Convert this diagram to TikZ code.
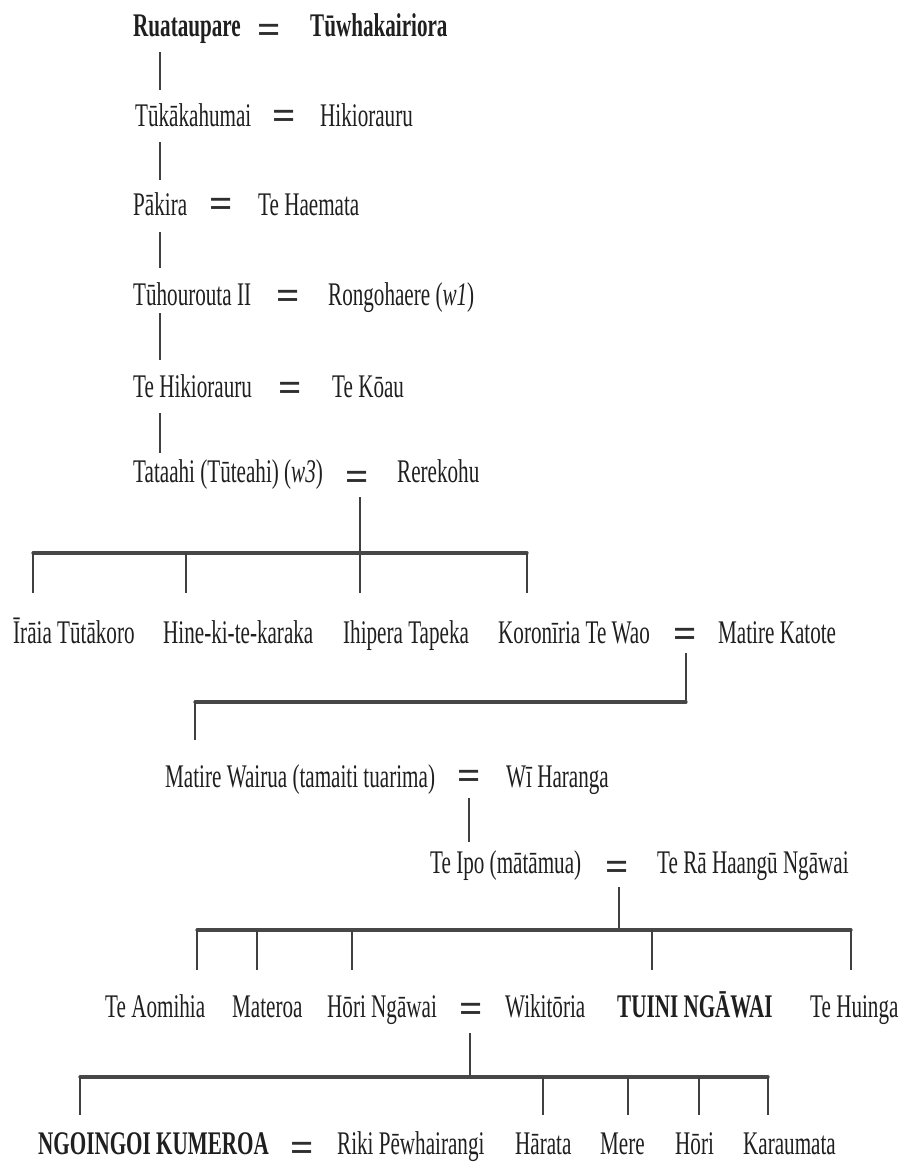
\documentclass[tikz,border=0pt]{standalone}
\usepackage{fontspec}
\setmainfont[FakeStretch=0.64]{Liberation Serif}
\newfontfamily\eqfont{Liberation Serif}
\begin{document}
\begin{tikzpicture}[x=1pt,y=-1pt,
  nm/.style={anchor=base west, inner sep=0pt, font=\fontsize{33}{38}\selectfont, text=black!88},
  bnm/.style={nm, font=\fontsize{33}{38}\selectfont\bfseries},
  eqs/.style={anchor=base, inner sep=0pt, font=\eqfont\fontsize{41}{44}\selectfont\bfseries, text=black!82},
  vline/.style={draw=black!75, line width=1.6pt},
  barline/.style={draw=black!72, line width=3.2pt, line cap=round}]
\useasboundingbox (0,0) rectangle (905,1169);

% Row 1
\node[bnm] (r1a) at (133,37) {Ruataupare};
\node[eqs] (e1) at (269,44) {=};
\node[bnm] (r1b) at (310,37) {Tūwhakairiora};
\coordinate (v1a) at (160,52); \coordinate (v1b) at (160,90);
\draw[vline] (v1a) -- (v1b);

% Row 2
\node[nm] (r2a) at (135,127) {Tūkākahumai};
\node[eqs] (e2) at (284,130) {=};
\node[nm] (r2b) at (320,127) {Hikiorauru};
\coordinate (v2a) at (160,142); \coordinate (v2b) at (160,180);
\draw[vline] (v2a) -- (v2b);

% Row 3
\node[nm] (r3a) at (133,215) {Pākira};
\node[eqs] (e3) at (221,218) {=};
\node[nm] (r3b) at (258,215) {Te Haemata};
\coordinate (v3a) at (160,232); \coordinate (v3b) at (160,268);
\draw[vline] (v3a) -- (v3b);

% Row 4
\node[nm] (r4a) at (133,305) {Tūhourouta II};
\node[eqs] (e4) at (288,309) {=};
\node[nm] (r4b) at (328,305) {Rongohaere (\textit{w1})};
\coordinate (v4a) at (160,313); \coordinate (v4b) at (160,360);
\draw[vline] (v4a) -- (v4b);

% Row 5
\node[nm] (r5a) at (133,397) {Te Hikiorauru};
\node[eqs] (e5) at (290,401) {=};
\node[nm] (r5b) at (332,397) {Te Kōau};
\coordinate (v5a) at (160,413); \coordinate (v5b) at (160,453);
\draw[vline] (v5a) -- (v5b);

% Row 6
\node[nm] (r6a) at (133,482) {Tataahi (Tūteahi) (\textit{w3})};
\node[eqs] (e6) at (357,490) {=};
\node[nm] (r6b) at (397,482) {Rerekohu};
\coordinate (v6a) at (360,497); \coordinate (v6b) at (360,593);
\draw[vline] (v6a) -- (v6b);
\coordinate (b1l) at (33,553); \coordinate (b1r) at (527,553);
\draw[barline] (b1l) -- (b1r);
\foreach \x in {33,186,527} \draw[vline] (\x,553) -- (\x,593);

% Row 7
\node[nm] (r7a) at (13,643) {Īrāia Tūtākoro};
\node[nm] (r7b) at (163,643) {Hine-ki-te-karaka};
\node[nm] (r7c) at (343,643) {Ihipera Tapeka};
\node[nm] (r7d) at (498,643) {Koronīria Te Wao};
\node[eqs] (e7) at (685,647) {=};
\node[nm] (r7e) at (718,643) {Matire Katote};
\coordinate (v7a) at (686,653); \coordinate (v7b) at (686,702);
\draw[vline] (v7a) -- (v7b);
\coordinate (b2l) at (195,702);
\draw[barline] (b2l) -- (v7b);
\coordinate (t2) at (195,740);
\draw[vline] (b2l) -- (t2);

% Row 8
\node[nm] (r8a) at (165,787) {Matire Wairua (tamaiti tuarima)};
\node[eqs] (e8) at (469,789) {=};
\node[nm] (r8b) at (506,787) {Wī Haranga};
\coordinate (v8a) at (469,798); \coordinate (v8b) at (469,842);
\draw[vline] (v8a) -- (v8b);

% Row 9
\node[nm] (r9a) at (430,873) {Te Ipo (mātāmua)};
\node[eqs] (e9) at (617,880) {=};
\node[nm] (r9b) at (657,873) {Te Rā Haangū Ngāwai};
\coordinate (v9a) at (619,887); \coordinate (v9b) at (619,930);
\draw[vline] (v9a) -- (v9b);
\coordinate (b3l) at (197,930); \coordinate (b3r) at (851,930);
\draw[barline] (b3l) -- (b3r);
\foreach \x in {197,257,352,652,851} \draw[vline] (\x,930) -- (\x,970);

% Row 10
\node[nm] (r10a) at (105,1017) {Te Aomihia};
\node[nm] (r10b) at (232,1017) {Materoa};
\node[nm] (r10c) at (327,1017) {Hōri Ngāwai};
\node[eqs] (e10) at (471,1022) {=};
\node[nm] (r10d) at (505,1017) {Wikitōria};
\node[bnm] (r10e) at (617,1017) {TUINI NGĀWAI};
\node[nm] (r10f) at (810,1017) {Te Huinga};
\coordinate (v10a) at (470,1033); \coordinate (v10b) at (470,1077);
\draw[vline] (v10a) -- (v10b);
\coordinate (b4l) at (80,1077); \coordinate (b4r) at (768,1077);
\draw[barline] (b4l) -- (b4r);
\foreach \x in {80,543,628,699,768} \draw[vline] (\x,1077) -- (\x,1115);

% Row 11
\node[bnm] (r11a) at (38,1154) {NGOINGOI KUMEROA};
\node[eqs] (e11) at (302,1161) {=};
\node[nm] (r11b) at (337,1154) {Riki Pēwhairangi};
\node[nm] (r11c) at (515,1154) {Hārata};
\node[nm] (r11d) at (600,1154) {Mere};
\node[nm] (r11e) at (675,1154) {Hōri};
\node[nm] (r11f) at (743,1154) {Karaumata};
\end{tikzpicture}
\end{document}
